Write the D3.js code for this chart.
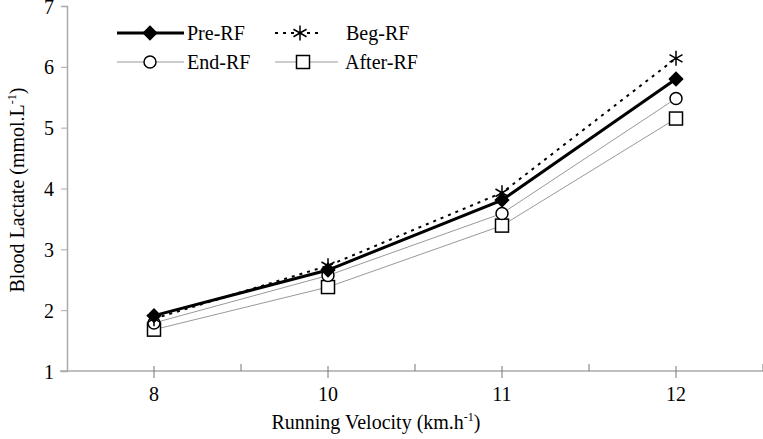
<!DOCTYPE html>
<html><head><meta charset="utf-8">
<script src="https://cdn.jsdelivr.net/npm/d3@7"></script>
<style>body{margin:0;background:#fff}svg{display:block}svg text{font-family:"Liberation Serif","Times New Roman",serif !important;fill:#000}</style>
</head><body><svg id="c" width="763" height="439"></svg>
<script>
const categories = ["8","10","11","12"];
const preRF   = [1.91, 2.66, 3.81, 5.80];
const begRF   = [1.86, 2.73, 3.93, 6.14];
const endRF   = [1.79, 2.57, 3.59, 5.48];
const afterRF = [1.68, 2.38, 3.39, 5.15];
const yTicks  = [1,2,3,4,5,6,7];

const FS = "20px";
const svg = d3.select("#c");
const x = d3.scaleBand().domain(categories).range([67, 763]);
const y = d3.scaleLinear().domain([1,7]).range([371, 6]);
const cx = c => x(c) + x.bandwidth()/2;

// y axis
const ya = svg.append("g").attr("transform","translate(67,0)")
  .call(d3.axisLeft(y).tickValues(yTicks).tickSize(6).tickPadding(7).tickFormat(d3.format("d")));
ya.attr("font-family",null).attr("font-size",null);
ya.select(".domain").attr("stroke","#aaa").attr("stroke-width",1.5);
ya.selectAll(".tick line").attr("stroke","#aaa");
ya.selectAll("text").style("font-size",FS).attr("dy","0.35em");

// x axis
const xg = svg.append("g");
xg.append("line").attr("x1",60).attr("x2",763).attr("y1",371).attr("y2",371).attr("stroke","#aaa").attr("stroke-width",1.5);
const bounds = categories.map(c => x(c)).concat([x.range()[1]]).slice(1);
xg.selectAll("line.b").data(bounds).join("line").attr("class","b")
  .attr("x1",d=>d).attr("x2",d=>d).attr("y1",364).attr("y2",371).attr("stroke","#777");
xg.selectAll("line.c").data(categories).join("line").attr("class","c")
  .attr("x1",d=>cx(d)).attr("x2",d=>cx(d)).attr("y1",366).attr("y2",378).attr("stroke","#777");
xg.selectAll("text").data(categories).join("text")
  .attr("x",d=>cx(d)).attr("y",401).attr("text-anchor","middle").style("font-size",FS).text(d=>d);

// axis titles
const xt = svg.append("text").attr("x",376).attr("y",429).attr("text-anchor","middle").style("font-size",FS);
xt.append("tspan").text("Running Velocity (km.h");
xt.append("tspan").attr("dy",-8).style("font-size","12px").text("-1");
xt.append("tspan").attr("dy",8).text(")");
const yt = svg.append("text").attr("transform","translate(24,190) rotate(-90)").attr("text-anchor","middle").style("font-size",FS);
yt.append("tspan").text("Blood Lactate (mmol.L");
yt.append("tspan").attr("dy",-8).style("font-size","12px").text("-1");
yt.append("tspan").attr("dy",8).text(")");

// markers
function marker(g, type, px, py){
  if(type==="diamond"){
    g.append("path").attr("d",d3.symbol(d3.symbolDiamond2,150)()).attr("transform",`translate(${px},${py})`).attr("fill","#000");
  } else if(type==="star"){
    const r=7.5;
    g.append("path").attr("d",`M${px},${py-r}L${px},${py+r}M${px-r*0.87},${py-r*0.5}L${px+r*0.87},${py+r*0.5}M${px-r*0.87},${py+r*0.5}L${px+r*0.87},${py-r*0.5}`)
      .attr("stroke","#000").attr("stroke-width",1.5).attr("fill","none");
  } else if(type==="circle"){
    g.append("circle").attr("cx",px).attr("cy",py).attr("r",6).attr("fill","#fff").attr("stroke","#000").attr("stroke-width",1.5);
  } else {
    g.append("rect").attr("x",px-6.5).attr("y",py-6.5).attr("width",13).attr("height",13).attr("fill","#fff").attr("stroke","#000").attr("stroke-width",1.5);
  }
}

const series = [
  {name:"After-RF", vals:afterRF, stroke:"#999", w:1, dash:null, m:"square"},
  {name:"End-RF", vals:endRF, stroke:"#999", w:1, dash:null, m:"circle"},
  {name:"Beg-RF", vals:begRF, stroke:"#000", w:2, dash:"3,5", m:"star"},
  {name:"Pre-RF", vals:preRF, stroke:"#000", w:3, dash:null, m:"diamond"}
];
const line = d3.line().x((d,i)=>cx(categories[i])).y(d=>y(d));
series.forEach(s=>{
  const g = svg.append("g");
  g.append("path").datum(s.vals).attr("d",line).attr("fill","none").attr("stroke",s.stroke)
    .attr("stroke-width",s.w).attr("stroke-dasharray",s.dash);
  s.vals.forEach((v,i)=>marker(g,s.m,cx(categories[i]),y(v)));
});

// legend
const leg = [
  {s:series[3], lx1:117, lx2:184, mx:150, tx:187, ty:33},
  {s:series[2], lx1:275, lx2:323, mx:300, tx:346, ty:33},
  {s:series[1], lx1:117, lx2:184, mx:150, tx:187, ty:62},
  {s:series[0], lx1:275, lx2:338, mx:303, tx:345, ty:62}
];
leg.forEach(l=>{
  const g = svg.append("g");
  g.append("line").attr("x1",l.lx1).attr("x2",l.lx2).attr("y1",l.ty).attr("y2",l.ty)
    .attr("stroke",l.s.stroke).attr("stroke-width",l.s.w).attr("stroke-dasharray",l.s.dash);
  marker(g,l.s.m,l.mx,l.ty);
  g.append("text").attr("x",l.tx).attr("y",l.ty+7).style("font-size",FS).text(l.s.name);
});
</script></body></html>
